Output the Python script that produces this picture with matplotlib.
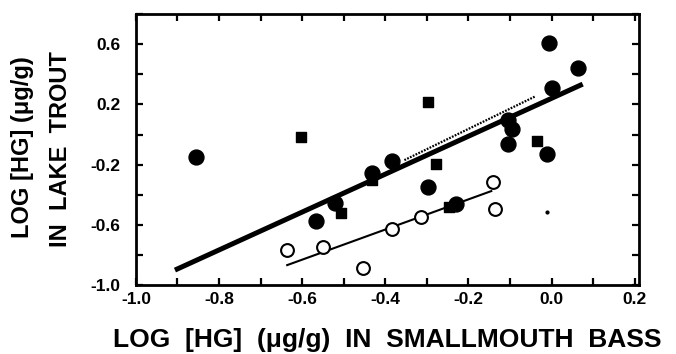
"""
Log Hg in lake trout vs smallmouth bass
"""
import matplotlib
matplotlib.use("Agg")
import matplotlib.pyplot as plt
from matplotlib.ticker import MultipleLocator


# Data
filled_x = [-0.855, -0.005, 0.063, 0.0, -0.104, -0.094, -0.104, -0.012,
            -0.385, -0.431, -0.520, -0.566, -0.296, -0.231]
filled_y = [-0.150, 0.607, 0.441, 0.308, 0.096, 0.036, -0.064, -0.130,
            -0.177, -0.257, -0.456, -0.576, -0.350, -0.463]
square_x = [-0.602, -0.296, -0.036, -0.277, -0.506, -0.431, -0.246]
square_y = [-0.017, 0.215, -0.044, -0.197, -0.523, -0.303, -0.483]
open_x = [-0.636, -0.549, -0.453, -0.385, -0.313, -0.142, -0.137]
open_y = [-0.768, -0.748, -0.888, -0.629, -0.549, -0.316, -0.496]
dot_x = [-0.010]
dot_y = [-0.516]

# Regression lines (end points)
all_line_x = [-0.906, 0.075]
all_line_y = [-0.901, 0.335]
open_line_x = [-0.636, -0.145]
open_line_y = [-0.868, -0.376]
dotted_line_x = [-0.354, -0.038]
dotted_line_y = [-0.170, 0.255]

x_ticks = [-1.0, -0.8, -0.6, -0.4, -0.2, 0.0, 0.2]
y_ticks = [-1.0, -0.6, -0.2, 0.2, 0.6]


# II Main Functions
def plot():
    plt.rcParams["font.family"] = ["Liberation Sans", "DejaVu Sans"]
    plt.rcParams["font.weight"] = "bold"

    fig = plt.figure(figsize=(6.76, 3.54), dpi=100)
    ax = fig.add_axes([0.201, 0.195, 0.744, 0.765])

    # Lines
    ax.plot(all_line_x, all_line_y, color="black", lw=3.6, solid_capstyle="butt", zorder=2)
    ax.plot(open_line_x, open_line_y, color="black", lw=1.5, zorder=2)
    ax.plot(dotted_line_x, dotted_line_y, color="black", lw=1.6,
            linestyle=(0, (0.8, 0.6)), zorder=2)

    # Points
    ax.scatter(square_x, square_y, marker="s", s=50, color="black", zorder=3)
    ax.scatter(filled_x, filled_y, marker="o", s=115, color="black", zorder=4)
    ax.scatter(open_x, open_y, marker="o", s=85, facecolor="white",
               edgecolor="black", linewidths=1.5, zorder=4)
    ax.scatter(dot_x, dot_y, marker="o", s=4, color="black", zorder=4)

    # Axes
    ax.set_xlim(-1.0, 0.21)
    ax.set_ylim(-1.0, 0.8)
    ax.set_xticks(x_ticks)
    ax.set_xticklabels([f"{v:.1f}" for v in x_ticks])
    ax.set_yticks(y_ticks)
    ax.set_yticklabels([f"{v:.1f}" for v in y_ticks])
    ax.xaxis.set_minor_locator(MultipleLocator(0.1))
    ax.yaxis.set_minor_locator(MultipleLocator(0.2))
    ax.tick_params(which="both", direction="in", top=True, right=True,
                   length=5, width=1.6, labelsize=12.5)
    ax.tick_params(axis="x", pad=5)
    ax.tick_params(axis="y", pad=11)
    for spine in ax.spines.values():
        spine.set_linewidth(2)

    fig.text(0.573, 0.04, "LOG  [HG]  (\u03bcg/g)  IN  SMALLMOUTH  BASS",
             ha="center", va="center", fontsize=19, fontweight="bold")
    fig.text(0.034, 0.585, "LOG [HG] (\u03bcg/g)",
             ha="center", va="center", rotation=90, fontsize=17,
             fontweight="bold")
    fig.text(0.089, 0.58, "IN  LAKE  TROUT",
             ha="center", va="center", rotation=90, fontsize=17,
             fontweight="bold")

    plt.savefig("out.png", dpi=100)
    plt.close()


# IV Main
def main():
    plot()


if __name__ == "__main__":
    main()
